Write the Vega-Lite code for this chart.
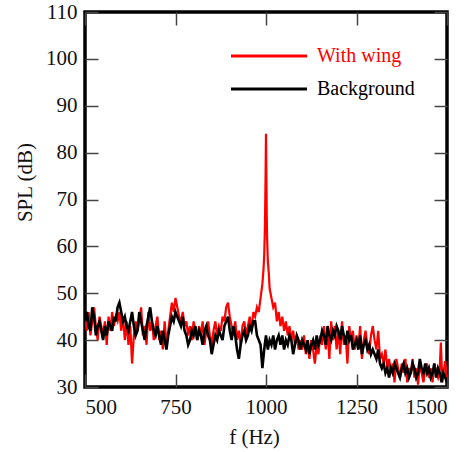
{
  "$schema": "https://vega.github.io/schema/vega-lite/v6.json",
  "width": 362,
  "height": 375,
  "autosize": {"type": "none"},
  "padding": {"left": 85, "top": 12, "right": 26, "bottom": 65},
  "background": "white",
  "config": {
    "font": "Liberation Serif",
    "view": {"stroke": "black", "strokeWidth": 3.5},
    "axis": {
      "domain": false,
      "grid": false,
      "tickSize": -13,
      "tickColor": "#444",
      "tickWidth": 1.5,
      "labelFont": "Liberation Serif",
      "labelFontSize": 21,
      "labelColor": "#111",
      "titleFont": "Liberation Serif",
      "titleFontSize": 21,
      "titleFontWeight": "normal",
      "titleColor": "#111"
    }
  },
  "datasets": {
    "wing": [
      {"f":500,"v":45},{"f":505,"v":42},{"f":510,"v":46},{"f":515,"v":41},{"f":520,"v":44},{"f":525,"v":47},{"f":530,"v":43},{"f":535,"v":40},{"f":540,"v":45},{"f":545,"v":43},
      {"f":550,"v":41},{"f":555,"v":44},{"f":560,"v":39},{"f":565,"v":45},{"f":570,"v":42},{"f":575,"v":46},{"f":580,"v":43},{"f":585,"v":45},{"f":590,"v":44},{"f":595,"v":46},
      {"f":600,"v":42},{"f":605,"v":45},{"f":610,"v":40},{"f":615,"v":44},{"f":620,"v":39},{"f":625,"v":43},{"f":630,"v":35},{"f":635,"v":41},{"f":640,"v":44},{"f":645,"v":42},
      {"f":650,"v":44},{"f":655,"v":47},{"f":660,"v":41},{"f":665,"v":43},{"f":670,"v":39},{"f":675,"v":46},{"f":680,"v":42},{"f":685,"v":44},{"f":690,"v":40},{"f":695,"v":43},
      {"f":700,"v":45},{"f":705,"v":40},{"f":710,"v":42},{"f":715,"v":38},{"f":720,"v":44},{"f":725,"v":39},{"f":730,"v":42},{"f":735,"v":45},{"f":740,"v":48},{"f":745,"v":46},
      {"f":750,"v":49},{"f":755,"v":47},{"f":760,"v":45},{"f":765,"v":44},{"f":770,"v":46},{"f":775,"v":43},{"f":780,"v":44},{"f":785,"v":41},{"f":790,"v":43},{"f":795,"v":40},
      {"f":800,"v":44},{"f":805,"v":42},{"f":810,"v":40},{"f":815,"v":43},{"f":820,"v":41},{"f":825,"v":44},{"f":830,"v":39},{"f":835,"v":42},{"f":840,"v":44},{"f":845,"v":41},
      {"f":850,"v":39},{"f":855,"v":42},{"f":860,"v":44},{"f":865,"v":41},{"f":870,"v":43},{"f":875,"v":42},{"f":880,"v":45},{"f":885,"v":44},{"f":890,"v":47},{"f":895,"v":48},
      {"f":900,"v":45},{"f":905,"v":43},{"f":910,"v":41},{"f":915,"v":44},{"f":920,"v":40},{"f":925,"v":42},{"f":930,"v":39},{"f":935,"v":43},{"f":940,"v":44},{"f":945,"v":41},
      {"f":950,"v":43},{"f":955,"v":45},{"f":960,"v":42},{"f":965,"v":46},{"f":970,"v":45},{"f":975,"v":47},{"f":980,"v":46},{"f":985,"v":49},{"f":990,"v":52},{"f":993,"v":55},
      {"f":995,"v":58},{"f":997,"v":64},{"f":998,"v":70},{"f":999,"v":76},{"f":1000,"v":84},{"f":1001,"v":75},{"f":1002,"v":67},{"f":1003,"v":62},{"f":1005,"v":57},{"f":1008,"v":54},
      {"f":1010,"v":51},{"f":1015,"v":49},{"f":1020,"v":47},{"f":1025,"v":48},{"f":1030,"v":44},{"f":1035,"v":46},{"f":1040,"v":43},{"f":1045,"v":45},
      {"f":1050,"v":42},{"f":1055,"v":44},{"f":1060,"v":41},{"f":1065,"v":43},{"f":1070,"v":40},{"f":1075,"v":42},{"f":1080,"v":39},{"f":1085,"v":41},{"f":1090,"v":38},{"f":1095,"v":40},
      {"f":1100,"v":38},{"f":1105,"v":41},{"f":1110,"v":37},{"f":1115,"v":39},{"f":1120,"v":36},{"f":1125,"v":40},{"f":1130,"v":38},{"f":1135,"v":35},{"f":1140,"v":39},{"f":1145,"v":37},
      {"f":1150,"v":41},{"f":1155,"v":39},{"f":1160,"v":43},{"f":1165,"v":38},{"f":1170,"v":42},{"f":1175,"v":36},{"f":1180,"v":44},{"f":1185,"v":40},{"f":1190,"v":43},{"f":1195,"v":38},
      {"f":1200,"v":42},{"f":1205,"v":37},{"f":1210,"v":44},{"f":1215,"v":39},{"f":1220,"v":41},{"f":1225,"v":35},{"f":1230,"v":43},{"f":1235,"v":40},{"f":1240,"v":42},{"f":1245,"v":38},
      {"f":1250,"v":41},{"f":1255,"v":38},{"f":1260,"v":43},{"f":1265,"v":36},{"f":1270,"v":40},{"f":1275,"v":42},{"f":1280,"v":39},{"f":1285,"v":37},{"f":1290,"v":41},{"f":1295,"v":43},
      {"f":1300,"v":40},{"f":1305,"v":38},{"f":1310,"v":42},{"f":1315,"v":36},{"f":1320,"v":37},{"f":1325,"v":35},{"f":1330,"v":38},{"f":1335,"v":34},{"f":1340,"v":36},{"f":1345,"v":33},
      {"f":1350,"v":35},{"f":1355,"v":31},{"f":1360,"v":36},{"f":1365,"v":34},{"f":1370,"v":32},{"f":1375,"v":35},{"f":1380,"v":33},{"f":1385,"v":36},{"f":1390,"v":31},{"f":1395,"v":34},
      {"f":1400,"v":33},{"f":1405,"v":36},{"f":1410,"v":32},{"f":1415,"v":34},{"f":1420,"v":30.5},{"f":1425,"v":35},{"f":1430,"v":33},{"f":1435,"v":31},{"f":1440,"v":34},{"f":1445,"v":35},
      {"f":1450,"v":32},{"f":1455,"v":34},{"f":1460,"v":31},{"f":1465,"v":35},{"f":1470,"v":33},{"f":1475,"v":32},{"f":1480,"v":34},{"f":1483,"v":39.5},{"f":1487,"v":31},{"f":1490,"v":33},
      {"f":1495,"v":35.5},{"f":1500,"v":32}
    ],
    "bg": [
      {"f":500,"v":44},{"f":505,"v":46},{"f":510,"v":43},{"f":515,"v":42},{"f":520,"v":47},{"f":525,"v":45},{"f":530,"v":41},{"f":535,"v":43},{"f":540,"v":44},{"f":545,"v":42},
      {"f":550,"v":40},{"f":555,"v":43},{"f":560,"v":41},{"f":565,"v":44},{"f":570,"v":43},{"f":575,"v":42},{"f":580,"v":45},{"f":585,"v":44},{"f":590,"v":47},{"f":595,"v":48},
      {"f":600,"v":46},{"f":605,"v":44},{"f":610,"v":45},{"f":615,"v":43},{"f":620,"v":42},{"f":625,"v":44},{"f":630,"v":46},{"f":635,"v":43},{"f":640,"v":41},{"f":645,"v":42},
      {"f":650,"v":46},{"f":655,"v":44},{"f":660,"v":42},{"f":665,"v":40},{"f":670,"v":43},{"f":675,"v":45},{"f":680,"v":47},{"f":685,"v":44},{"f":690,"v":42},{"f":695,"v":41},
      {"f":700,"v":43},{"f":705,"v":41},{"f":710,"v":39},{"f":715,"v":42},{"f":720,"v":40},{"f":725,"v":38},{"f":730,"v":41},{"f":735,"v":43},{"f":740,"v":45},{"f":745,"v":44},
      {"f":750,"v":46},{"f":755,"v":45},{"f":760,"v":44},{"f":765,"v":43},{"f":770,"v":45},{"f":775,"v":42},{"f":780,"v":41},{"f":785,"v":39},{"f":790,"v":40},{"f":795,"v":42},
      {"f":800,"v":41},{"f":805,"v":43},{"f":810,"v":40},{"f":815,"v":42},{"f":820,"v":41},{"f":825,"v":39},{"f":830,"v":42},{"f":835,"v":43},{"f":840,"v":41},{"f":845,"v":40},
      {"f":850,"v":37},{"f":855,"v":39},{"f":860,"v":41},{"f":865,"v":40},{"f":870,"v":42},{"f":875,"v":41},{"f":880,"v":40},{"f":885,"v":43},{"f":890,"v":44},{"f":895,"v":45},
      {"f":900,"v":42},{"f":905,"v":40},{"f":910,"v":43},{"f":915,"v":41},{"f":920,"v":38},{"f":925,"v":36},{"f":930,"v":39},{"f":935,"v":41},{"f":940,"v":42},{"f":945,"v":40},
      {"f":950,"v":41},{"f":955,"v":43},{"f":960,"v":42},{"f":965,"v":44},{"f":970,"v":44},{"f":975,"v":41},{"f":980,"v":40},{"f":985,"v":39},{"f":990,"v":34},{"f":995,"v":38},
      {"f":1000,"v":41},{"f":1005,"v":38},{"f":1010,"v":40},{"f":1015,"v":39},{"f":1020,"v":41},{"f":1025,"v":38},{"f":1030,"v":40},{"f":1035,"v":41},{"f":1040,"v":39},{"f":1045,"v":41},
      {"f":1050,"v":38},{"f":1055,"v":40},{"f":1060,"v":39},{"f":1065,"v":41},{"f":1070,"v":40},{"f":1075,"v":37},{"f":1080,"v":39},{"f":1085,"v":41},{"f":1090,"v":40},{"f":1095,"v":38},
      {"f":1100,"v":40},{"f":1105,"v":39},{"f":1110,"v":38},{"f":1115,"v":40},{"f":1120,"v":37},{"f":1125,"v":39},{"f":1130,"v":40},{"f":1135,"v":38},{"f":1140,"v":41},{"f":1145,"v":39},
      {"f":1150,"v":40},{"f":1155,"v":42},{"f":1160,"v":41},{"f":1165,"v":39},{"f":1170,"v":43},{"f":1175,"v":41},{"f":1180,"v":40},{"f":1185,"v":42},{"f":1190,"v":41},{"f":1195,"v":43},
      {"f":1200,"v":42},{"f":1205,"v":40},{"f":1210,"v":43},{"f":1215,"v":41},{"f":1220,"v":39},{"f":1225,"v":42},{"f":1230,"v":40},{"f":1235,"v":41},{"f":1240,"v":38},{"f":1245,"v":39},
      {"f":1250,"v":40},{"f":1255,"v":38},{"f":1260,"v":41},{"f":1265,"v":37},{"f":1270,"v":39},{"f":1275,"v":40},{"f":1280,"v":38},{"f":1285,"v":39},{"f":1290,"v":37},{"f":1295,"v":38},
      {"f":1300,"v":37},{"f":1305,"v":36},{"f":1310,"v":38},{"f":1315,"v":35},{"f":1320,"v":34},{"f":1325,"v":35},{"f":1330,"v":33},{"f":1335,"v":34},{"f":1340,"v":32},{"f":1345,"v":34},
      {"f":1350,"v":33},{"f":1355,"v":35},{"f":1360,"v":34},{"f":1365,"v":33},{"f":1370,"v":32},{"f":1375,"v":34},{"f":1380,"v":35},{"f":1385,"v":33},{"f":1390,"v":34},{"f":1395,"v":32},
      {"f":1400,"v":33},{"f":1405,"v":35},{"f":1410,"v":34},{"f":1415,"v":32},{"f":1420,"v":33},{"f":1425,"v":36},{"f":1430,"v":34},{"f":1435,"v":33},{"f":1440,"v":35},{"f":1445,"v":33},
      {"f":1450,"v":34},{"f":1455,"v":32},{"f":1460,"v":33},{"f":1465,"v":35},{"f":1470,"v":32},{"f":1475,"v":34},{"f":1480,"v":33},{"f":1485,"v":31},{"f":1490,"v":33},{"f":1495,"v":32},
      {"f":1500,"v":31}
    ]
  },
  "layer": [
    {
      "data": {"name": "wing"},
      "mark": {"type": "line", "strokeWidth": 2.2, "clip": true},
      "encoding": {
        "x": {"field": "f", "type": "quantitative", "scale": {"domain": [500, 1500], "nice": false},
              "axis": {"orient": "bottom", "values": [500, 750, 1000, 1250, 1500], "format": "d", "title": "f (Hz)", "labelPadding": 22, "titleX": 169, "titlePadding": 9}},
        "y": {"field": "v", "type": "quantitative", "scale": {"domain": [30, 110], "nice": false},
              "axis": {"orient": "left", "values": [30, 40, 50, 60, 70, 80, 90, 100, 110], "format": "d", "title": "SPL (dB)", "labelPadding": 21, "titleY": 170, "titlePadding": 10}},
        "color": {"datum": "With wing", "type": "nominal",
                  "scale": {"domain": ["With wing", "Background"], "range": ["#ff0000", "#000000"]},
                  "legend": {"orient": "none", "legendX": 173, "legendY": 33, "title": null,
                             "symbolType": "M-4,0H4", "symbolSize": 361, "symbolStrokeWidth": 3,
                             "labelFontSize": 20, "labelFont": "Liberation Serif", "labelOffset": 37, "padding": 0, "rowPadding": 12,
                             "encode": {"labels": {"update": {"fill": {"scale": "color", "field": "value"}}}}}}
      }
    },
    {
      "data": {"name": "bg"},
      "mark": {"type": "line", "strokeWidth": 2.6, "clip": true},
      "encoding": {
        "x": {"field": "f", "type": "quantitative",
              "axis": {"orient": "top", "values": [500, 750, 1000, 1250, 1500], "labels": false, "title": null}},
        "y": {"field": "v", "type": "quantitative",
              "axis": {"orient": "right", "values": [30, 40, 50, 60, 70, 80, 90, 100, 110], "labels": false, "title": null}},
        "color": {"datum": "Background", "type": "nominal"}
      }
    }
  ],
  "resolve": {"axis": {"x": "independent", "y": "independent"}}
}
